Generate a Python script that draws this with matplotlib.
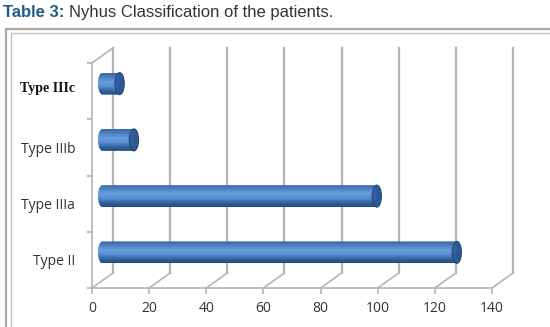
import numpy as np
import matplotlib
matplotlib.use("Agg")
import matplotlib.pyplot as plt
from matplotlib.colors import LinearSegmentedColormap
from matplotlib.patches import Ellipse, Polygon, Rectangle
from matplotlib.transforms import offset_copy

categories = ["Type II", "Type IIIa", "Type IIIb", "Type IIIc"]
values = [124, 96, 11, 6]
xticks = [0, 20, 40, 60, 80, 100, 120, 140]

W, H = 550, 327
fig = plt.figure(figsize=(W / 100, H / 100), dpi=100)

# front plane of the plot, in pixels
x0, x1, ytop, ybot = 92, 492, 63, 288
ax = fig.add_axes([x0 / W, 1 - ybot / H, (x1 - x0) / W, (ybot - ytop) / H])
ax.set_xlim(0, 140)
ax.set_ylim(-0.5, 3.5)
ax.patch.set_alpha(0)

# depth offset of the 3d box (21px right, 15px up)
px_x = 140 / (x1 - x0)
px_y = 4 / (ybot - ytop)
DX, DY = 21 * px_x, 15 * px_y
grid_c = "#b4b4b4"

for v in xticks:
    ax.plot([v + DX, v + DX], [-0.5 + DY, 3.5 + DY], color=grid_c, lw=1.6, clip_on=False, zorder=1)
    ax.plot([v, v + DX], [-0.5, -0.5 + DY], color=grid_c, lw=1.2, clip_on=False, zorder=1)
ax.plot([0, DX], [3.5, 3.5 + DY], color=grid_c, lw=1.2, clip_on=False, zorder=1)

for s in ["top", "right"]:
    ax.spines[s].set_visible(False)
for s in ["left", "bottom"]:
    ax.spines[s].set_color(grid_c)
    ax.spines[s].set_linewidth(1.2)

ax.set_xticks(xticks)
ax.set_xticklabels([str(t) for t in xticks])
ax.tick_params(axis="x", colors=grid_c, length=4, width=1.2, pad=5, labelcolor="#333333", labelsize=10)
ax.set_yticks(range(4))
ax.set_yticks(np.arange(-0.5, 4, 1), minor=True)
ax.tick_params(axis="y", which="major", length=0, pad=12, labelcolor="#333333", labelsize=10)
ax.tick_params(axis="y", which="minor", length=3.5, width=1.2, colors=grid_c)
ax.set_yticklabels(categories)
for lab in ax.get_xticklabels() + ax.get_yticklabels():
    lab.set_family("Open Sans")
lab = ax.get_yticklabels()[3]
lab.set_family("Liberation Serif")
lab.set_fontweight("bold")
lab.set_color("#111111")
lab.set_fontsize(10)
lab.set_transform(offset_copy(lab.get_transform(), fig, x=0, y=4, units="dots"))

# cylinders
cmap = LinearSegmentedColormap.from_list(
    "cyl", ["#234a7c", "#3566a6", "#5a8fd0", "#679ddc", "#4c80c2", "#3a6aa8"])
grad = np.linspace(0, 1, 64).reshape(-1, 1)
bh = 22 * px_y
cw = 4.6 * px_x
t = np.linspace(-np.pi / 2, np.pi / 2, 40)
for i, v in enumerate(values):
    xs, xe = DX / 2, v + DX / 2
    yc = i + DY / 2
    right = np.column_stack([xe + cw * np.cos(t), yc + bh / 2 * np.sin(t)])
    left = np.column_stack([xs - cw * np.cos(t[::-1]), yc + bh / 2 * np.sin(t[::-1])])
    poly = Polygon(np.vstack([right, left]), closed=True, fc="none", ec="none", transform=ax.transData)
    ax.add_patch(poly)
    im = ax.imshow(grad, cmap=cmap, aspect="auto", origin="lower",
                   extent=[xs - cw, xe + cw, yc - bh / 2, yc + bh / 2], zorder=3)
    im.set_clip_path(poly)
    ax.add_patch(Ellipse((xe, yc), 2 * cw, bh, fc="#2d5a93", ec="#26497a", lw=0.8, zorder=4))
    ax.add_patch(Ellipse((xe - cw * 0.45, yc + bh * 0.08), 0.7 * cw, bh * 0.7, fc="#33639f",
                         ec="none", alpha=0.8, zorder=4))

ax.set_xlim(0, 140)
ax.set_ylim(-0.5, 3.5)

# outer double frame
fig.patches.append(Rectangle((6 / W, -0.1), 1.2, 1.1 - 29 / H, transform=fig.transFigure,
                             fill=False, ec="#a8a8a8", lw=1.6))
fig.patches.append(Rectangle((10.5 / W, -0.1), 1.2, 1.1 - 33 / H, transform=fig.transFigure,
                             fill=False, ec="#c4c4c4", lw=1.0))

fig.text(3 / W, 1 - 17 / H, "Table 3:", fontsize=12, fontweight="bold", color="#215a86",
         family="Liberation Sans")
fig.text(69 / W, 1 - 17 / H, "Nyhus Classification of the patients.", fontsize=12,
         color="#333333", family="Liberation Sans")

fig.savefig("out.png", dpi=100)
